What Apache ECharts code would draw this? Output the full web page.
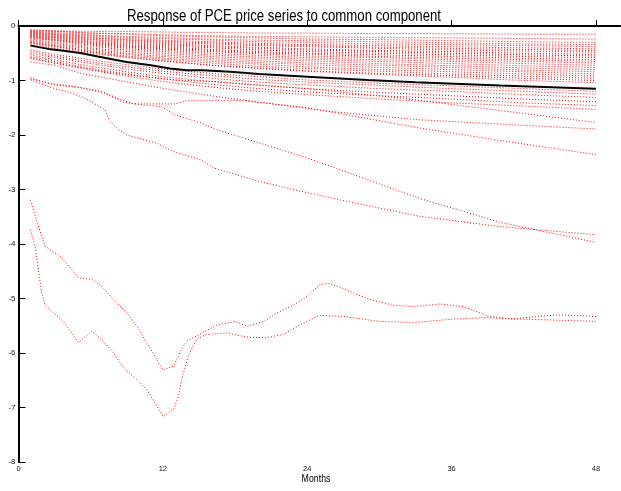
<!DOCTYPE html>
<html>
<head>
<meta charset="utf-8">
<script src="https://cdn.jsdelivr.net/npm/echarts@6/dist/echarts.min.js"></script>
<style>
html,body{margin:0;padding:0;background:#fff;}
#chart{width:621px;height:491px;}
</style>
</head>
<body>
<div id="chart"></div>
<script>
// ---- data ----
const titleText = 'Response of PCE price series to common component';
const xAxisTitle = 'Months';
const xTicks = [0, 12, 24, 36, 48];
const yTicks = [0, -1, -2, -3, -4, -5, -6, -7, -8];

// months at which the dense upper bundle was read
const bundleMonths = [1, 3, 6, 9, 12, 16, 20, 24, 30, 36, 42, 48];
// upper bundle of series (values at bundleMonths)
const bundle01 = [-0.08,-0.09,-0.10,-0.10,-0.11,-0.12,-0.13,-0.13,-0.14,-0.14,-0.15,-0.15];
const bundle02 = [-0.09,-0.10,-0.13,-0.14,-0.16,-0.18,-0.19,-0.20,-0.21,-0.22,-0.23,-0.24];
const bundle03 = [-0.07,-0.09,-0.13,-0.15,-0.18,-0.20,-0.22,-0.24,-0.25,-0.27,-0.29,-0.30];
const bundle04 = [-0.10,-0.12,-0.16,-0.19,-0.21,-0.24,-0.26,-0.27,-0.29,-0.31,-0.33,-0.34];
const bundle05 = [-0.11,-0.14,-0.17,-0.21,-0.23,-0.26,-0.29,-0.30,-0.33,-0.34,-0.36,-0.38];
const bundle06 = [-0.12,-0.15,-0.19,-0.23,-0.26,-0.29,-0.32,-0.34,-0.36,-0.38,-0.40,-0.42];
const bundle07 = [-0.13,-0.16,-0.21,-0.25,-0.28,-0.31,-0.34,-0.36,-0.39,-0.41,-0.43,-0.45];
const bundle08 = [-0.14,-0.17,-0.22,-0.26,-0.30,-0.33,-0.36,-0.38,-0.41,-0.44,-0.46,-0.48];
const bundle09 = [-0.15,-0.19,-0.24,-0.28,-0.32,-0.36,-0.39,-0.42,-0.45,-0.47,-0.50,-0.52];
const bundle10 = [-0.16,-0.20,-0.25,-0.30,-0.34,-0.38,-0.41,-0.44,-0.47,-0.50,-0.53,-0.55];
const bundle11 = [-0.17,-0.21,-0.27,-0.32,-0.36,-0.40,-0.44,-0.47,-0.50,-0.53,-0.56,-0.58];
const bundle12 = [-0.18,-0.22,-0.29,-0.34,-0.38,-0.43,-0.47,-0.50,-0.53,-0.56,-0.59,-0.62];
const bundle13 = [-0.19,-0.24,-0.30,-0.36,-0.40,-0.45,-0.49,-0.52,-0.56,-0.59,-0.62,-0.65];
const bundle14 = [-0.20,-0.25,-0.32,-0.37,-0.42,-0.47,-0.51,-0.55,-0.58,-0.62,-0.65,-0.68];
const bundle15 = [-0.21,-0.26,-0.33,-0.39,-0.44,-0.50,-0.54,-0.58,-0.62,-0.65,-0.69,-0.72];
const bundle16 = [-0.22,-0.27,-0.35,-0.41,-0.47,-0.53,-0.57,-0.61,-0.65,-0.69,-0.73,-0.76];
const bundle17 = [-0.24,-0.30,-0.37,-0.44,-0.50,-0.56,-0.60,-0.64,-0.69,-0.73,-0.77,-0.80];
const bundle18 = [-0.26,-0.32,-0.40,-0.47,-0.53,-0.59,-0.64,-0.68,-0.72,-0.76,-0.81,-0.84];
const bundle19 = [-0.28,-0.34,-0.42,-0.50,-0.56,-0.62,-0.67,-0.71,-0.76,-0.80,-0.84,-0.88];
const bundle20 = [-0.30,-0.36,-0.45,-0.52,-0.59,-0.65,-0.70,-0.75,-0.80,-0.84,-0.88,-0.92];
const bundle21 = [-0.32,-0.38,-0.47,-0.55,-0.61,-0.68,-0.74,-0.78,-0.83,-0.88,-0.92,-0.96];
const bundle22 = [-0.34,-0.41,-0.50,-0.58,-0.64,-0.72,-0.77,-0.82,-0.87,-0.91,-0.96,-1.00];
const bundle23 = [-0.30,-0.37,-0.48,-0.57,-0.64,-0.72,-0.78,-0.83,-0.89,-0.94,-1.00,-1.04];
const bundle24 = [-0.44,-0.52,-0.62,-0.71,-0.79,-0.87,-0.93,-0.99,-1.05,-1.10,-1.15,-1.20];
const bundle25 = [-0.47,-0.55,-0.66,-0.75,-0.83,-0.91,-0.98,-1.03,-1.09,-1.15,-1.20,-1.25];
const bundle26 = [-0.50,-0.58,-0.69,-0.79,-0.87,-0.96,-1.03,-1.08,-1.15,-1.20,-1.26,-1.31];
const bundle27 = [-0.53,-0.62,-0.74,-0.84,-0.93,-1.02,-1.09,-1.15,-1.22,-1.28,-1.34,-1.39];
const bundle28 = [-0.56,-0.65,-0.78,-0.88,-0.97,-1.07,-1.15,-1.21,-1.28,-1.34,-1.41,-1.46];
const bundle29 = [-0.58,-0.68,-0.81,-0.92,-1.02,-1.12,-1.20,-1.26,-1.34,-1.41,-1.47,-1.53];

// individually traced series: [month, response]
const seriesG = [[1,-0.66],[3,-0.72],[5.2,-0.87],[8.85,-1.02],[11.9,-1.14],[16.3,-1.29],[26,-1.57],[33.3,-1.72],[40,-1.80],[48,-1.89]];
const seriesH = [[1,-0.60],[3,-0.68],[8,-0.87],[13,-0.99],[16.3,-1.02],[24,-1.15],[31.7,-1.32],[40,-1.55],[48,-1.77]];
const seriesF = [[1,-0.97],[3,-1.08],[5,-1.13],[7,-1.22],[8.7,-1.40],[10,-1.43],[13,-1.43],[14,-1.37],[16.3,-1.37],[18.7,-1.37],[24,-1.50],[33.3,-1.87],[40,-2.10],[48,-2.36]];
const seriesD = [[1,-0.95],[2.5,-1.05],[4.7,-1.11],[6.9,-1.20],[8.5,-1.35],[9.5,-1.43],[11.9,-1.48],[13,-1.63],[15.2,-1.78],[16.3,-1.89],[24,-2.42],[33.3,-3.16],[40,-3.60],[48,-3.97]];
const seriesE = [[1,-0.99],[3,-1.15],[4,-1.20],[5.5,-1.32],[7.2,-1.54],[7.6,-1.75],[8.3,-1.90],[9,-2.00],[11.5,-2.15],[12.8,-2.30],[15.1,-2.45],[16.3,-2.61],[20,-2.85],[23.4,-3.03],[28,-3.25],[33.3,-3.49],[40,-3.68],[48,-3.83]];
const seriesA = [[1,-3.20],[1.56,-3.61],[2.2,-4.04],[3.45,-4.22],[4.1,-4.38],[5,-4.62],[6.1,-4.65],[6.9,-4.77],[7.9,-5.02],[9,-5.26],[9.85,-5.51],[10.65,-5.81],[11.5,-6.12],[12,-6.31],[12.9,-6.24],[13.55,-5.93],[14,-5.78],[15.1,-5.65],[16.45,-5.49],[18,-5.42],[19,-5.51],[20.4,-5.42],[21.5,-5.26],[22.8,-5.13],[24,-4.96],[25,-4.75],[25.8,-4.72],[27,-4.82],[29,-5.00],[31,-5.12],[33,-5.15],[35,-5.10],[37,-5.15],[39,-5.32],[41,-5.38],[43,-5.33],[45,-5.30],[48,-5.33]];
const seriesB = [[1,-3.74],[1.37,-4.04],[1.65,-4.47],[1.93,-4.90],[2.2,-5.11],[2.9,-5.26],[3.72,-5.42],[4.42,-5.63],[5,-5.81],[6.08,-5.60],[6.9,-5.75],[7.9,-6.00],[8.85,-6.30],[9.82,-6.48],[10.65,-6.67],[11.34,-6.91],[12.03,-7.17],[12.9,-7.03],[13.3,-6.79],[13.64,-6.42],[14.1,-6.06],[14.8,-5.75],[15.6,-5.66],[17.3,-5.63],[19,-5.71],[20.6,-5.72],[22,-5.66],[23.7,-5.45],[25,-5.31],[27,-5.33],[30,-5.42],[33,-5.44],[36,-5.38],[39,-5.35],[42,-5.38],[45,-5.40],[48,-5.42]];
// common-component average (solid black)
const seriesMean = [[1,-0.36],[2.5,-0.42],[3.9,-0.46],[5.25,-0.50],[6.6,-0.56],[8,-0.62],[9,-0.66],[11,-0.72],[12.6,-0.78],[14,-0.81],[15.3,-0.81],[17.6,-0.84],[20,-0.88],[24,-0.93],[29,-0.99],[33,-1.03],[40,-1.09],[48,-1.15]];

const bundles = [bundle01,bundle02,bundle03,bundle04,bundle05,bundle06,bundle07,bundle08,bundle09,bundle10,
  bundle11,bundle12,bundle13,bundle14,bundle15,bundle16,bundle17,bundle18,bundle19,bundle20,
  bundle21,bundle22,bundle23,bundle24,bundle25,bundle26,bundle27,bundle28,bundle29];
const traced = [seriesG, seriesH, seriesF, seriesD, seriesE, seriesA, seriesB];

// ---- chart ----
const FONT = '"Liberation Sans", Arial, sans-serif';
const redStyle = {color: '#ff0000', width: 1, type: [1, 2]};
const series = [];
bundles.forEach(function (vals) {
  series.push({type: 'line', data: bundleMonths.map(function (m, i) { return [m, vals[i]]; }),
    showSymbol: false, lineStyle: redStyle, silent: true});
});
traced.forEach(function (d) {
  series.push({type: 'line', data: d, showSymbol: false, lineStyle: redStyle, silent: true});
});
series.push({type: 'line', data: seriesMean, showSymbol: false, z: 5,
  lineStyle: {color: '#000', width: 2, type: 'solid'}, silent: true});

const chart = echarts.init(document.getElementById('chart'), null, {renderer: 'canvas'});
chart.setOption({
  animation: false,
  backgroundColor: '#fff',
  graphic: [{
    type: 'text', x: 127, y: 16, scaleX: 0.8,
    style: {text: titleText, font: '16.5px ' + FONT, fill: '#000', align: 'left', verticalAlign: 'middle'}
  }, {
    type: 'text', x: 316, y: 479, scaleX: 0.8,
    style: {text: xAxisTitle, font: '11px ' + FONT, fill: '#000', align: 'center', verticalAlign: 'middle'}
  }],
  grid: {left: 18.5, right: 1, top: 26, bottom: 29, containLabel: false},
  xAxis: [{
    type: 'value', min: 0, max: 50, interval: 12, position: 'bottom',
    axisLine: {show: true, lineStyle: {color: '#000', width: 2}},
    axisTick: {show: true, inside: true, length: 5, customValues: xTicks, lineStyle: {color: '#000', width: 1}},
    axisLabel: {fontFamily: FONT, fontSize: 7.5, color: '#222', margin: 3, customValues: xTicks},
    splitLine: {show: false}
  }, {
    type: 'value', min: 0, max: 50, interval: 12, position: 'top',
    axisLine: {show: true, lineStyle: {color: '#000', width: 1.5}},
    axisTick: {show: true, inside: false, length: 6, customValues: xTicks, lineStyle: {color: '#000', width: 1}},
    axisLabel: {show: false}, splitLine: {show: false}
  }],
  yAxis: [{
    type: 'value', min: -8, max: 0, interval: 1, position: 'left',
    axisLine: {show: true, lineStyle: {color: '#000', width: 2}},
    axisTick: {show: true, inside: true, length: 5, lineStyle: {color: '#000', width: 1}},
    axisLabel: {fontFamily: FONT, fontSize: 8, color: '#222', margin: 3, customValues: yTicks},
    splitLine: {show: false}
  }, {
    type: 'value', min: -8, max: 0, interval: 1, position: 'right',
    axisLine: {show: true, lineStyle: {color: '#000', width: 1}},
    axisTick: {show: true, inside: false, length: 7, lineStyle: {color: '#000', width: 1}},
    axisLabel: {show: false}, splitLine: {show: false}
  }],
  series: series
});
</script>
</body>
</html>
